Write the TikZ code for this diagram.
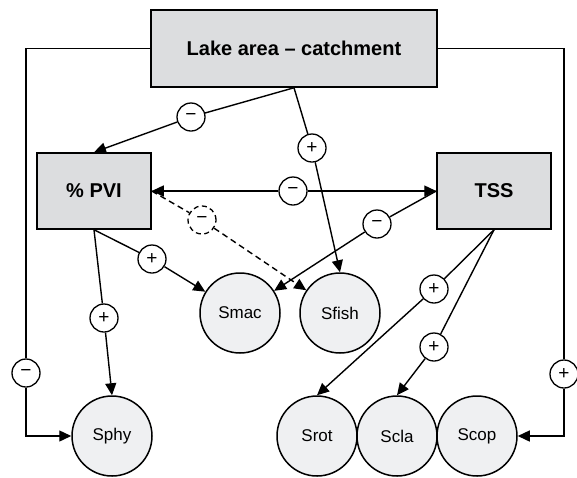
\documentclass[tikz,border=0pt]{standalone}
\usepackage{fontspec}
\setmainfont{Liberation Sans}
\usetikzlibrary{arrows.meta, positioning}
\definecolor{boxgray}{RGB}{220, 221, 223}
\definecolor{circgray}{RGB}{239, 240, 242}

\begin{document}
\begin{tikzpicture}[
    x=1pt, y=-1pt,
    factor/.style={rectangle, draw=black, fill=boxgray, line width=1.5pt, minimum width=114pt, minimum height=76pt, font=\fontsize{20}{24}\selectfont\bfseries, align=center},
    taxon/.style={circle, draw=black, fill=circgray, line width=1.5pt, minimum size=80pt, inner sep=0pt, font=\fontsize{17}{20}\selectfont},
    sign/.style={circle, draw=black, fill=white, line width=1.3pt, minimum size=28pt, inner sep=0pt, font=\fontsize{19}{20}\selectfont},
    signdash/.style={sign, dash pattern=on 5pt off 3.5pt},
    arr/.style={-{Triangle[length=12pt,width=11pt]}, line width=1.4pt},
    link/.style={line width=1.4pt},
]
\useasboundingbox (0,0) rectangle (577,477);

\node[factor, minimum width=286pt, minimum height=77pt] (lake) at (294,48.5) {Lake area – catchment};
\node[factor] (pvi) at (94,191) {\% PVI};
\node[factor] (tss) at (494,191) {TSS};

\node[taxon] (sphy) at (112,436) {Sphy};
\node[taxon] (smac) at (240,313) {Smac};
\node[taxon] (sfish) at (340,313) {Sfish};
\node[taxon] (srot) at (317,436) {Srot};
\node[taxon] (scla) at (397,436) {Scla};
\node[taxon] (scop) at (477,436) {Scop};

\node[sign] (m1) at (191,117) {−};
\node[sign] (p1) at (312,148) {+};
\node[sign] (m2) at (293,191) {−};
\node[sign] (m3) at (377,224) {−};
\node[signdash] (dm) at (202,220) {−};
\node[sign] (p2) at (152,259) {+};
\node[sign] (p3) at (104,318) {+};
\node[sign] (p4) at (434,289) {+};
\node[sign] (p5) at (434,347) {+};
\node[sign] (lm) at (26,373) {−};
\node[sign] (rp) at (564,374) {+};

\draw[link] (lake.south) -- (m1);
\draw[arr] (m1) -- (pvi.north);
\draw[link] (lake.south) -- (p1);
\draw[arr] (p1) -- (sfish.north);

\draw[arr] (m2) -- (pvi.east);
\draw[arr] (m2) -- (tss.west);

\draw[link] (tss.west) -- (m3);
\draw[arr] (m3) -- (smac);

\draw[link, dash pattern=on 6pt off 4pt] (pvi.east) -- (dm);
\draw[arr, dash pattern=on 6pt off 4pt] (dm) -- (sfish);

\draw[link] (pvi.south) -- (p2);
\draw[arr] (p2) -- (smac);
\draw[link] (pvi.south) -- (p3);
\draw[arr] (p3) -- (sphy.north);

\draw[link] (tss.south) -- (p4);
\draw[arr] (p4) -- (srot.north);
\draw[link] (tss.south) -- (p5);
\draw[arr] (p5) -- (scla.north);

\draw[link] (lake.west) -| (lm);
\draw[arr] (lm) |- (sphy.west);
\draw[link] (lake.east) -| (rp);
\draw[arr] (rp) |- (scop.east);

\end{tikzpicture}
\end{document}
